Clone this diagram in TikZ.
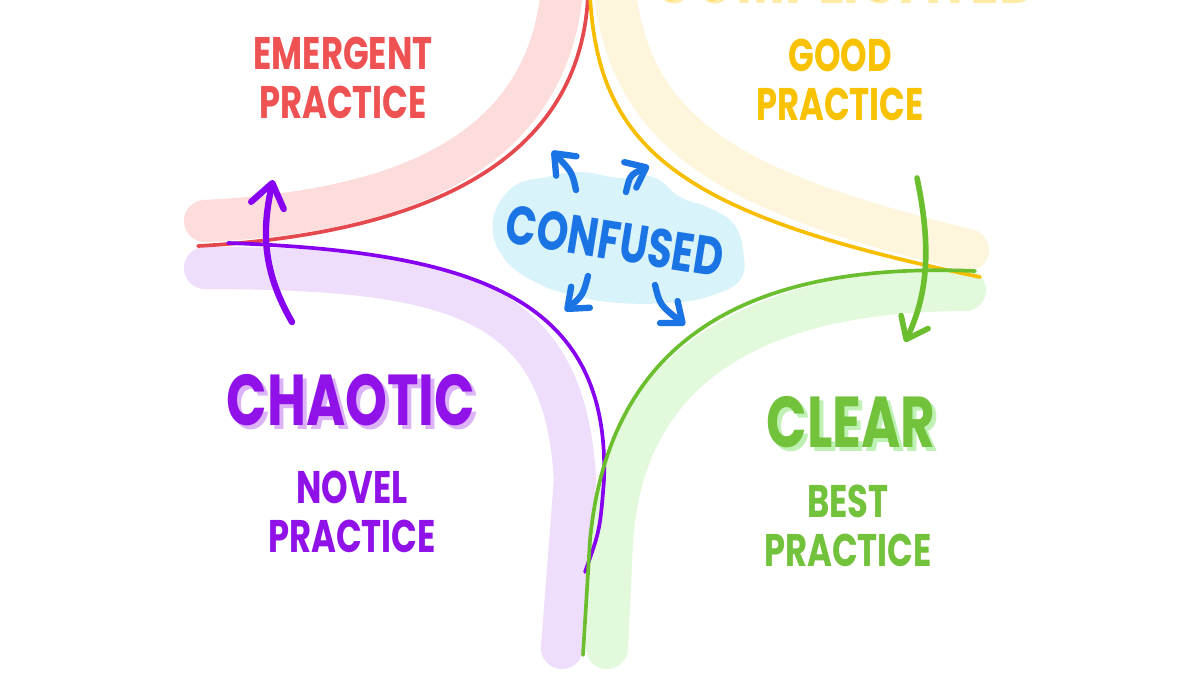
\documentclass[tikz,border=0pt]{standalone}
\usepackage{fontspec}
\newfontfamily\handfont[FakeStretch=0.74]{Poppins}
\usepackage{tikz}
\usetikzlibrary{arrows.meta}

\definecolor{redline}{HTML}{E5484D}
\definecolor{redband}{HTML}{FDDCDC}
\definecolor{redtext}{HTML}{EE5253}
\definecolor{yellowline}{HTML}{F7BE00}
\definecolor{yellowband}{HTML}{FEF6DC}
\definecolor{yellowtext}{HTML}{F8C200}
\definecolor{yellowshade}{HTML}{FDEBA6}
\definecolor{purpleline}{HTML}{8800F0}
\definecolor{purpleband}{HTML}{EEDDFB}
\definecolor{purpletext}{HTML}{9012E8}
\definecolor{purpleshade}{HTML}{DDB3F7}
\definecolor{greenline}{HTML}{6BBF2F}
\definecolor{greenband}{HTML}{E2F9DC}
\definecolor{greentext}{HTML}{73C23C}
\definecolor{greenshade}{HTML}{BFF1B4}
\definecolor{bluetext}{HTML}{1B74E4}
\definecolor{cloudfill}{HTML}{D9F3FB}

\tikzset{
  band/.style={line width=24pt, line cap=round},
  edge/.style={line width=2.1pt, line cap=round},
  flow/.style={->, line width=3.6pt, line cap=round},
  label/.style={font=\handfont\bfseries\fontsize{26}{28}\selectfont, align=center, inner sep=0pt},
  title/.style={font=\handfont\bfseries\fontsize{41}{44}\selectfont, inner sep=0pt}
}

\begin{document}
\begin{tikzpicture}[x=0.2mm, y=-0.2mm, >={Straight Barb[round, length=10pt, width=16pt]}]
    \useasboundingbox (0,0) rectangle (1200,675);
    \clip (0,0) rectangle (1200,675);
    \fill[white] (0,0) rectangle (1200,675);

    % Bande
    \draw[band, redband] (205,221) .. controls (390,212) and (555,160) .. (563,-25);
    \draw[band, yellowband] (613,-25) .. controls (625,130) and (720,190) .. (968,250);
    \draw[band, purpleband] (205,268) .. controls (460,268) and (565,300) .. (575,480) -- (562,648);
    \draw[band, greenband] (965,290) .. controls (780,290) and (625,350) .. (612,540) -- (607,648);

    % Bordi
    \draw[edge, redline] (198,246) .. controls (400,235) and (580,175) .. (588,-5);
    \draw[edge, yellowline] (590,-5) .. controls (598,150) and (680,215) .. (980,277);
    \draw[edge, purpleline] (228,243) .. controls (480,252) and (610,300) .. (604,480) .. controls (600,530) .. (585,572);
    \draw[edge, greenline] (975,271) .. controls (760,262) and (610,330) .. (590,540) -- (583,655);

    % Nuvola
    \fill[cloudfill] plot[smooth cycle, tension=0.7] coordinates {
      (493,220) (513,187) (547,177) (580,172) (620,178) (653,177) (680,197)
      (707,207) (733,223) (743,250) (740,280) (707,297) (667,303) (620,303)
      (580,297) (537,283) (503,257)};
    \node[font=\handfont\bfseries\fontsize{31}{32}\selectfont, text=bluetext, rotate=-9, inner sep=0pt] (confused) at (615,241) {CONFUSED};

    % Etichette
    \node[title, text=yellowshade] (complicatedshade) at (846,-22) {COMPLICATED};
    \node[title, text=yellowtext] (complicated) at (843,-25) {COMPLICATED};
    \node[label, text=redtext] (emergent) at (343,78) {EMERGENT\\PRACTICE};
    \node[label, text=yellowtext] (good) at (840,80) {GOOD\\PRACTICE};
    \node[title, text=purpleshade] (chaoticshade) at (355,404) {CHAOTIC};
    \node[title, text=purpletext] (chaotic) at (351,400) {CHAOTIC};
    \node[label, text=purpletext] (novel) at (352,512) {NOVEL\\PRACTICE};
    \node[title, text=greenshade] (clearshade) at (855,426) {CLEAR};
    \node[title, text=greentext] (clear) at (851,422) {CLEAR};
    \node[label, text=greentext] (best) at (848,526) {BEST\\PRACTICE};

    % Frecce
    \coordinate (upA) at (576,190);   \coordinate (upAtip) at (552,151);
    \coordinate (upB) at (626,192);   \coordinate (upBtip) at (649,166);
    \coordinate (downA) at (588,276); \coordinate (downAtip) at (565,311);
    \coordinate (downB) at (655,285); \coordinate (downBtip) at (685,325);
    \draw[flow, bluetext] (upA) .. controls (572,172) .. (upAtip);
    \draw[flow, bluetext] (upB) .. controls (630,175) .. (upBtip);
    \draw[flow, bluetext] (downA) .. controls (583,295) .. (downAtip);
    \draw[flow, bluetext] (downB) .. controls (660,305) .. (downBtip);

    \coordinate (chaosstart) at (292,322); \coordinate (chaosend) at (273,180);
    \coordinate (orderstart) at (917,178); \coordinate (orderend) at (905,342);
    \draw[flow, purpleline, -{Straight Barb[round, length=13pt, width=19pt]}] (chaosstart) .. controls (262,270) and (262,230) .. (chaosend);
    \draw[flow, greenline, line width=3.2pt, -{Straight Barb[round, length=11pt, width=17pt]}] (orderstart) .. controls (930,240) and (930,290) .. (orderend);
\end{tikzpicture}
\end{document}
